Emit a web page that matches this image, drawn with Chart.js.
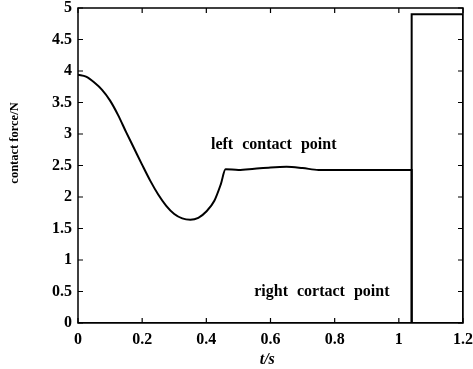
<!DOCTYPE html>
<html>
<head>
<meta charset="utf-8">
<script src="https://cdn.jsdelivr.net/npm/chart.js@4/dist/chart.umd.min.js"></script>
<style>
  html, body { margin: 0; padding: 0; background: #fff; }
  #wrap { width: 473px; height: 369px; }
</style>
</head>
<body>
<div id="wrap"><canvas id="forceChart"></canvas></div>
<script>
'use strict';

// ----- data -----
const leftT = [0, 0.025, 0.05, 0.075, 0.1, 0.125, 0.15, 0.175, 0.2, 0.225, 0.25, 0.275,
  0.3, 0.325, 0.35, 0.375, 0.4, 0.425, 0.445, 0.46, 0.5, 0.55, 0.6, 0.65, 0.7, 0.75,
  0.8, 1.04, 1.04, 1.2];
const leftForce = [3.94, 3.91, 3.82, 3.70, 3.53, 3.30, 3.03, 2.77, 2.51, 2.26, 2.04, 1.86,
  1.73, 1.66, 1.64, 1.67, 1.77, 1.94, 2.20, 2.44, 2.43, 2.45, 2.47, 2.48, 2.46, 2.43,
  2.43, 2.43, 0, 0];
const rightT = [0, 1.04, 1.04, 1.2, 1.2];
const rightForce = [0, 0, 4.9, 4.9, 0];

const xTicks = [0, 0.2, 0.4, 0.6, 0.8, 1, 1.2];
const yTicks = [0, 0.5, 1, 1.5, 2, 2.5, 3, 3.5, 4, 4.5, 5];

const notes = [
  { text: 'left contact point', x: 0.61, y: 2.83 },
  { text: 'right cortact point', x: 0.76, y: 0.49 }
];

const SERIF = "'Liberation Serif', 'DejaVu Serif', serif";

const toPoints = (xs, ys) => xs.map((x, i) => ({ x: x, y: ys[i] }));
const fmt = v => String(Number(v.toFixed(1)));

/* ----------------------------------------------------------
   枠・内向き目盛り・注記
   ---------------------------------------------------------- */
const framePlugin = {
  id: 'frame',
  afterDatasetsDraw(chart) {
    const { ctx, chartArea: a, scales } = chart;
    const len = 5;
    ctx.save();
    ctx.strokeStyle = '#000';
    ctx.lineWidth = 1.5;
    ctx.strokeRect(a.left, a.top, a.right - a.left, a.bottom - a.top);

    ctx.lineWidth = 1.2;
    ctx.beginPath();
    xTicks.forEach(v => {
      const px = scales.x.getPixelForValue(v);
      ctx.moveTo(px, a.bottom); ctx.lineTo(px, a.bottom - len);
      ctx.moveTo(px, a.top); ctx.lineTo(px, a.top + len);
    });
    yTicks.forEach(v => {
      const py = scales.y.getPixelForValue(v);
      ctx.moveTo(a.left, py); ctx.lineTo(a.left + len, py);
      ctx.moveTo(a.right, py); ctx.lineTo(a.right - len, py);
    });
    ctx.stroke();

    // notes inside the plot
    ctx.fillStyle = '#000';
    ctx.font = 'bold 16px ' + SERIF;
    ctx.textAlign = 'center';
    ctx.textBaseline = 'middle';
    if ('wordSpacing' in ctx) ctx.wordSpacing = '5px';
    notes.forEach(n => {
      ctx.fillText(n.text, scales.x.getPixelForValue(n.x), scales.y.getPixelForValue(n.y));
    });
    if ('wordSpacing' in ctx) ctx.wordSpacing = '0px';

    // axis titles
    ctx.font = 'italic bold 16px ' + SERIF;
    ctx.fillText('t/s', scales.x.getPixelForValue(0.59), 360);

    ctx.translate(15, 143);
    ctx.rotate(-Math.PI / 2);
    ctx.font = 'bold 12.5px ' + SERIF;
    ctx.fillText('contact force/N', 0, 0);
    ctx.restore();
  }
};

new Chart(document.getElementById('forceChart'), {
  type: 'line',
  data: {
    datasets: [
      {
        label: 'left contact point',
        data: toPoints(leftT, leftForce),
        borderColor: '#000',
        borderWidth: 2,
        pointRadius: 0,
        cubicInterpolationMode: 'monotone',
        fill: false
      },
      {
        label: 'right contact point',
        data: toPoints(rightT, rightForce),
        borderColor: '#000',
        borderWidth: 2,
        pointRadius: 0,
        tension: 0,
        fill: false
      }
    ]
  },
  options: {
    responsive: true,
    maintainAspectRatio: false,
    animation: false,
    layout: { padding: { top: 8, right: 10, left: 0, bottom: 0 } },
    plugins: {
      legend: { display: false },
      tooltip: { enabled: false }
    },
    scales: {
      x: {
        type: 'linear',
        min: 0,
        max: 1.2,
        afterBuildTicks: s => { s.ticks = xTicks.map(v => ({ value: v })); },
        afterFit: s => { s.height = 46; s.paddingLeft = 0; s.paddingRight = 0; },
        grid: { display: false, drawTicks: false, tickLength: 0 },
        border: { display: false },
        ticks: {
          color: '#000',
          padding: 7,
          maxRotation: 0,
          callback: fmt,
          font: { family: SERIF, size: 16, weight: 'bold' }
        }
      },
      y: {
        type: 'linear',
        min: 0,
        max: 5,
        afterBuildTicks: s => { s.ticks = yTicks.map(v => ({ value: v })); },
        afterFit: s => { s.width = 78; s.paddingTop = 0; s.paddingBottom = 0; },
        grid: { display: false, drawTicks: false, tickLength: 0 },
        border: { display: false },
        ticks: {
          color: '#000',
          padding: 6,
          callback: fmt,
          font: { family: SERIF, size: 16, weight: 'bold' }
        }
      }
    }
  },
  plugins: [framePlugin]
});
</script>
</body>
</html>
